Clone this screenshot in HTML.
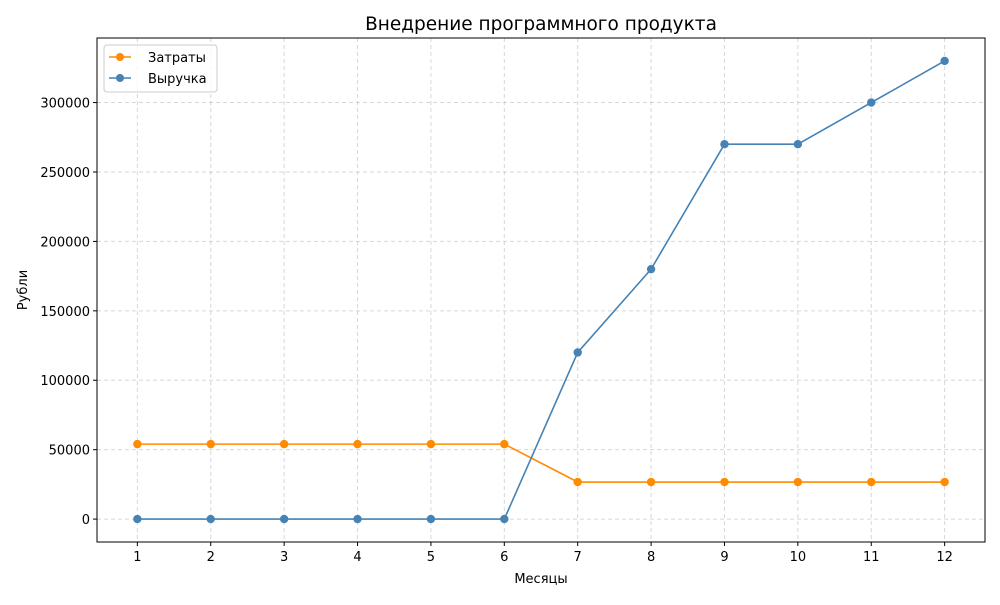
<!DOCTYPE html>
<html><head><meta charset="utf-8"><style>
body{margin:0;background:#fff}
svg text{font-family:"DejaVu Sans","Liberation Sans",sans-serif;fill:#000}
</style></head><body>
<svg id="chart" width="1000" height="600">
<rect width="1000" height="600" fill="#fff"/>
<g id="grid"></g>
<g id="axes"></g>
<g id="series"></g>
<text x="541" y="30" font-size="18.5" text-anchor="middle">Внедрение программного продукта</text>
<text x="541" y="583" font-size="13" text-anchor="middle">Месяцы</text>
<text transform="translate(27,290) rotate(-90)" font-size="13" text-anchor="middle">Рубли</text>
<g>
<rect x="104" y="45" width="113" height="47" rx="3" fill="#fff" fill-opacity="0.8" stroke="#ccc"/>
<g>
<line x1="109" y1="57" x2="131" y2="57" stroke="#ff8c00" stroke-width="1.5"/><circle cx="120" cy="57" r="4" fill="#ff8c00"/>
<text x="148" y="62" font-size="13">Затраты</text></g>
<g>
<line x1="109" y1="78" x2="131" y2="78" stroke="#4682b4" stroke-width="1.5"/><circle cx="120" cy="78" r="4" fill="#4682b4"/>
<text x="148" y="83" font-size="13">Выручка</text></g>
</g>
</svg>
<script>
const months=[1,2,3,4,5,6,7,8,9,10,11,12];
const costs=[54000,54000,54000,54000,54000,54000,26700,26700,26700,26700,26700,26700];
const revenue=[0,0,0,0,0,0,120000,180000,270000,270000,300000,330000];
const yTicks=[0,50000,100000,150000,200000,250000,300000];
const L=97,R=985,T=38,B=542;
const xmin=0.45,xmax=12.55,ymin=-16500,ymax=346500;
const X=v=>L+(v-xmin)/(xmax-xmin)*(R-L);
const Y=v=>B-(v-ymin)/(ymax-ymin)*(B-T);
const NS='http://www.w3.org/2000/svg';
function mk(tag,attrs,parent){const e=document.createElementNS(NS,tag);for(const k in attrs)e.setAttribute(k,attrs[k]);parent.appendChild(e);return e;}
const grid=document.getElementById('grid'),axes=document.getElementById('axes'),ser=document.getElementById('series');
months.forEach(m=>{
 const g=mk('line',{x1:X(m),x2:X(m),y1:T,y2:B,stroke:'#b0b0b0','stroke-opacity':0.5,'stroke-dasharray':'4,3'},grid);
 
 
 const t=mk('line',{x1:X(m),x2:X(m),y1:B,y2:B+4,stroke:'#000'},axes);
 
 
 const l=mk('text',{x:X(m),y:B+19,'font-size':13,'text-anchor':'middle'},axes);l.textContent=m;
 
 
});
yTicks.forEach(v=>{
 const g=mk('line',{x1:L,x2:R,y1:Y(v),y2:Y(v),stroke:'#b0b0b0','stroke-opacity':0.5,'stroke-dasharray':'4,3'},grid);
 
 
 const t=mk('line',{x1:L-4,x2:L,y1:Y(v),y2:Y(v),stroke:'#000'},axes);
 
 
 const l=mk('text',{x:L-7,y:Y(v)+5,'font-size':13,'text-anchor':'end'},axes);l.textContent=v;
 
 
});
const fr=mk('rect',{x:L,y:T,width:R-L,height:B-T,fill:'none',stroke:'#000','stroke-width':1},axes);


function draw(vals,color,name){
 const p=mk('polyline',{points:months.map((m,i)=>X(m)+','+Y(vals[i])).join(' '),fill:'none',stroke:color,'stroke-width':1.6},ser);
 
 
 months.forEach((m,i)=>{
  const c=mk('circle',{cx:X(m),cy:Y(vals[i]),r:4.2,fill:color},ser);
  
  
 });
}
draw(costs,'#ff8c00','costs');
draw(revenue,'#4682b4','revenue');
</script>
</body></html>
